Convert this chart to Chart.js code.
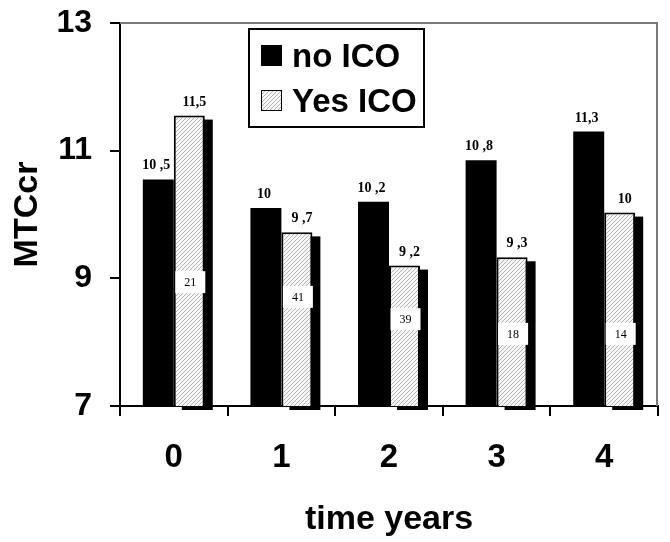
<!DOCTYPE html>
<html>
<head>
<meta charset="utf-8">
<script src="https://cdn.jsdelivr.net/npm/chart.js@4/dist/chart.umd.min.js"></script>
<style>
  html, body { margin: 0; padding: 0; background: #fff; }
  #wrap { width: 670px; height: 542px; position: relative; }
</style>
</head>
<body>
<div id="wrap"><canvas id="c" width="670" height="542"></canvas></div>
<script>
// ---- data ----
const categories = ['0', '1', '2', '3', '4'];
const seriesNames = ['no ICO', 'Yes ICO'];
const noICO = [10.55, 10.1, 10.2, 10.85, 11.3];
const yesICO = [11.55, 9.72, 9.2, 9.33, 10.03];
const noICOLabels = ['10 ,5', '10', '10 ,2', '10 ,8', '11,3'];
const yesICOLabels = ['11,5', '9 ,7', '9 ,2', '9 ,3', '10'];
const counts = ['21', '41', '39', '18', '14'];
const yTicks = [7, 9, 11, 13];
const axisTitles = { x: 'time years', y: 'MTCcr' };

// ---- styling helpers ----
const countBoxLevels = [8.94, 8.71, 8.36, 8.13, 8.13]; // y position (axis units) of count boxes

function makeHatch() {
  const s = 4;
  const p = document.createElement('canvas');
  p.width = s; p.height = s;
  const g = p.getContext('2d');
  g.fillStyle = '#f6f6f6';
  g.fillRect(0, 0, s, s);
  g.strokeStyle = '#b4b4b4';
  g.lineWidth = 1;
  g.beginPath();
  g.moveTo(-1, s + 1); g.lineTo(s + 1, -1);
  g.moveTo(-1, 1); g.lineTo(1, -1);
  g.moveTo(s - 1, s + 1); g.lineTo(s + 1, s - 1);
  g.stroke();
  return document.getElementById('c').getContext('2d').createPattern(p, 'repeat');
}
const hatch = makeHatch();

const shadowPlugin = {
  id: 'shadow',
  beforeDatasetsDraw(chart) {
    const ctx = chart.ctx;
    const bottom = chart.scales.y.getPixelForValue(chart.scales.y.min);
    const meta = chart.getDatasetMeta(1);
    ctx.save();
    ctx.fillStyle = '#000';
    meta.data.forEach(el => {
      const p = el.getProps(['x', 'y', 'width'], true);
      ctx.fillRect(p.x - p.width / 2 + 8, p.y + 4, p.width, bottom - p.y);
    });
    ctx.restore();
  }
};

const labelPlugin = {
  id: 'valueLabels',
  afterDatasetsDraw(chart) {
    const ctx = chart.ctx;
    const yScale = chart.scales.y;
    ctx.save();
    ctx.fillStyle = '#000';
    ctx.font = 'bold 14px "Liberation Serif"';
    ctx.textAlign = 'center';
    ctx.textBaseline = 'alphabetic';
    const sets = [[0, noICOLabels, -2], [1, yesICOLabels, 5]];
    sets.forEach(([di, labels, dx]) => {
      chart.getDatasetMeta(di).data.forEach((el, i) => {
        const p = el.getProps(['x', 'y'], true);
        ctx.fillText(labels[i], p.x + dx, p.y - 10);
      });
    });
    // count boxes
    ctx.font = '12px "Liberation Serif"';
    ctx.textBaseline = 'middle';
    chart.getDatasetMeta(1).data.forEach((el, i) => {
      const p = el.getProps(['x'], true);
      const cy = yScale.getPixelForValue(countBoxLevels[i]);
      ctx.fillStyle = '#fff';
      ctx.fillRect(p.x - 14, cy - 11, 30, 22);
      ctx.fillStyle = '#000';
      ctx.fillText(counts[i], p.x + 1, cy + 1);
    });
    ctx.restore();
  }
};

const framePlugin = {
  id: 'frame',
  afterDatasetsDraw(chart) {
    const { ctx, chartArea: a } = chart;
    ctx.save();
    ctx.strokeStyle = '#7a7a7a';
    ctx.lineWidth = 2;
    ctx.beginPath();
    ctx.moveTo(a.left, a.top);
    ctx.lineTo(a.right - 1, a.top);
    ctx.lineTo(a.right - 1, a.bottom);
    ctx.stroke();
    ctx.restore();
  }
};

const legendPlugin = {
  id: 'boxLegend',
  afterDraw(chart) {
    const ctx = chart.ctx;
    ctx.save();
    ctx.fillStyle = '#fff';
    ctx.fillRect(249, 29, 175, 98);
    ctx.strokeStyle = '#000';
    ctx.lineWidth = 2;
    ctx.strokeRect(249, 29, 175, 98);
    const rows = [45, 90];
    chart.data.datasets.forEach((ds, i) => {
      const y = rows[i];
      ctx.fillStyle = ds.backgroundColor;
      ctx.fillRect(261, y, 21, 21);
      ctx.lineWidth = 1;
      ctx.strokeStyle = '#000';
      ctx.strokeRect(261.5, y + 0.5, 20, 20);
      ctx.fillStyle = '#000';
      ctx.font = 'bold 33px "Liberation Sans"';
      ctx.textAlign = 'left';
      ctx.textBaseline = 'alphabetic';
      ctx.fillText(ds.label, 292, y + 22);
    });
    ctx.restore();
  }
};

new Chart(document.getElementById('c'), {
  type: 'bar',
  data: {
    labels: categories,
    datasets: [
      { label: seriesNames[0], data: noICO, backgroundColor: '#000', borderWidth: 0 },
      { label: seriesNames[1], data: yesICO, backgroundColor: hatch, borderColor: '#000', borderWidth: 2, borderSkipped: false }
    ]
  },
  options: {
    responsive: false,
    animation: false,
    devicePixelRatio: 1,
    layout: { padding: { top: 23, right: 12, left: 0, bottom: 0 } },
    plugins: { legend: { display: false }, tooltip: { enabled: false } },
    datasets: { bar: { barPercentage: 1, categoryPercentage: 0.576 } },
    scales: {
      x: {
        afterFit(s) { s.height = 136; s.paddingLeft = 0; s.paddingRight = 0; },
        grid: { offset: true, drawOnChartArea: false, drawTicks: true, tickLength: 10, color: '#000', lineWidth: 2 },
        border: { color: '#000', width: 2 },
        ticks: { color: '#000', padding: 22, font: { family: '"Liberation Sans"', weight: 'bold', size: 33 } },
        title: { display: true, text: axisTitles.x, color: '#000', padding: { top: 0, bottom: 2 },
                 font: { family: '"Liberation Sans"', weight: 'bold', size: 34 } }
      },
      y: {
        min: 7, max: 13,
        afterFit(s) { s.width = 120; s.paddingTop = 0; s.paddingBottom = 0; },
        afterBuildTicks(s) { s.ticks = yTicks.map(v => ({ value: v })); },
        grid: { drawOnChartArea: false, drawTicks: true, tickLength: 10, color: '#000', lineWidth: 2 },
        border: { color: '#000', width: 2 },
        ticks: { color: '#000', padding: 18, font: { family: '"Liberation Sans"', weight: 'bold', size: 32 } },
        title: { display: true, text: axisTitles.y, color: '#000', padding: { top: 7, bottom: 0 },
                 font: { family: '"Liberation Sans"', weight: 'bold', size: 34 } }
      }
    }
  },
  plugins: [shadowPlugin, labelPlugin, framePlugin, legendPlugin]
});
</script>
</body>
</html>
